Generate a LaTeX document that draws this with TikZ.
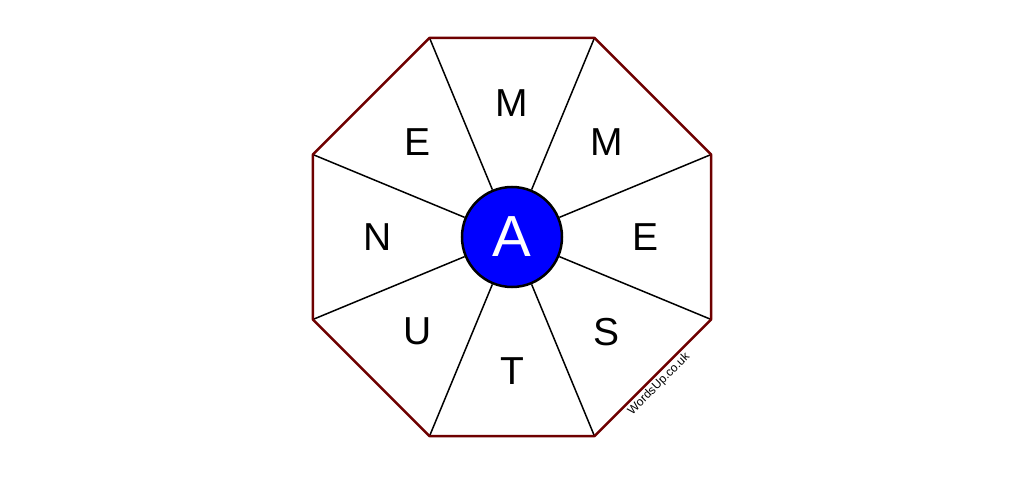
\documentclass[tikz,border=0pt]{standalone}
\usepackage{fontspec}
\setmainfont{Liberation Sans}
\usepackage{tikz}
\definecolor{rimred}{RGB}{110,0,0}

\begin{document}
\begin{tikzpicture}[x=1pt,y=1pt]
\useasboundingbox (-512,-239) rectangle (512,237);
\foreach \i in {0,...,7} \coordinate (v\i) at ({22.5+45*\i}:215.5);
\node[circle,draw,line width=2.5pt,fill=blue,minimum size=100pt,inner sep=0pt,text=white,font=\fontsize{58}{58}\selectfont] (hub) at (0,0) {A};
\foreach \i in {0,...,7} \draw[line width=1.5pt] (v\i) -- (hub);
\draw[rimred,line width=2.5pt,line join=round] (v0) -- (v1) -- (v2) -- (v3) -- (v4) -- (v5) -- (v6) -- (v7) -- cycle;
\node[font=\fontsize{39}{39}\selectfont] (l0) at (90:134) {M};
\node[font=\fontsize{39}{39}\selectfont] (l1) at (45:134) {M};
\node[font=\fontsize{39}{39}\selectfont] (l2) at (0:134) {E};
\node[font=\fontsize{39}{39}\selectfont] (l3) at (-45:134) {S};
\node[font=\fontsize{39}{39}\selectfont] (l4) at (-90:134) {T};
\node[font=\fontsize{39}{39}\selectfont] (l5) at (-135:134) {U};
\node[font=\fontsize{39}{39}\selectfont] (l6) at (180:134) {N};
\node[font=\fontsize{39}{39}\selectfont] (l7) at (135:134) {E};
\node[rotate=45,font=\fontsize{12}{12}\selectfont] (credit) at (147,-147) {WordsUp.co.uk};
\end{tikzpicture}
\end{document}
